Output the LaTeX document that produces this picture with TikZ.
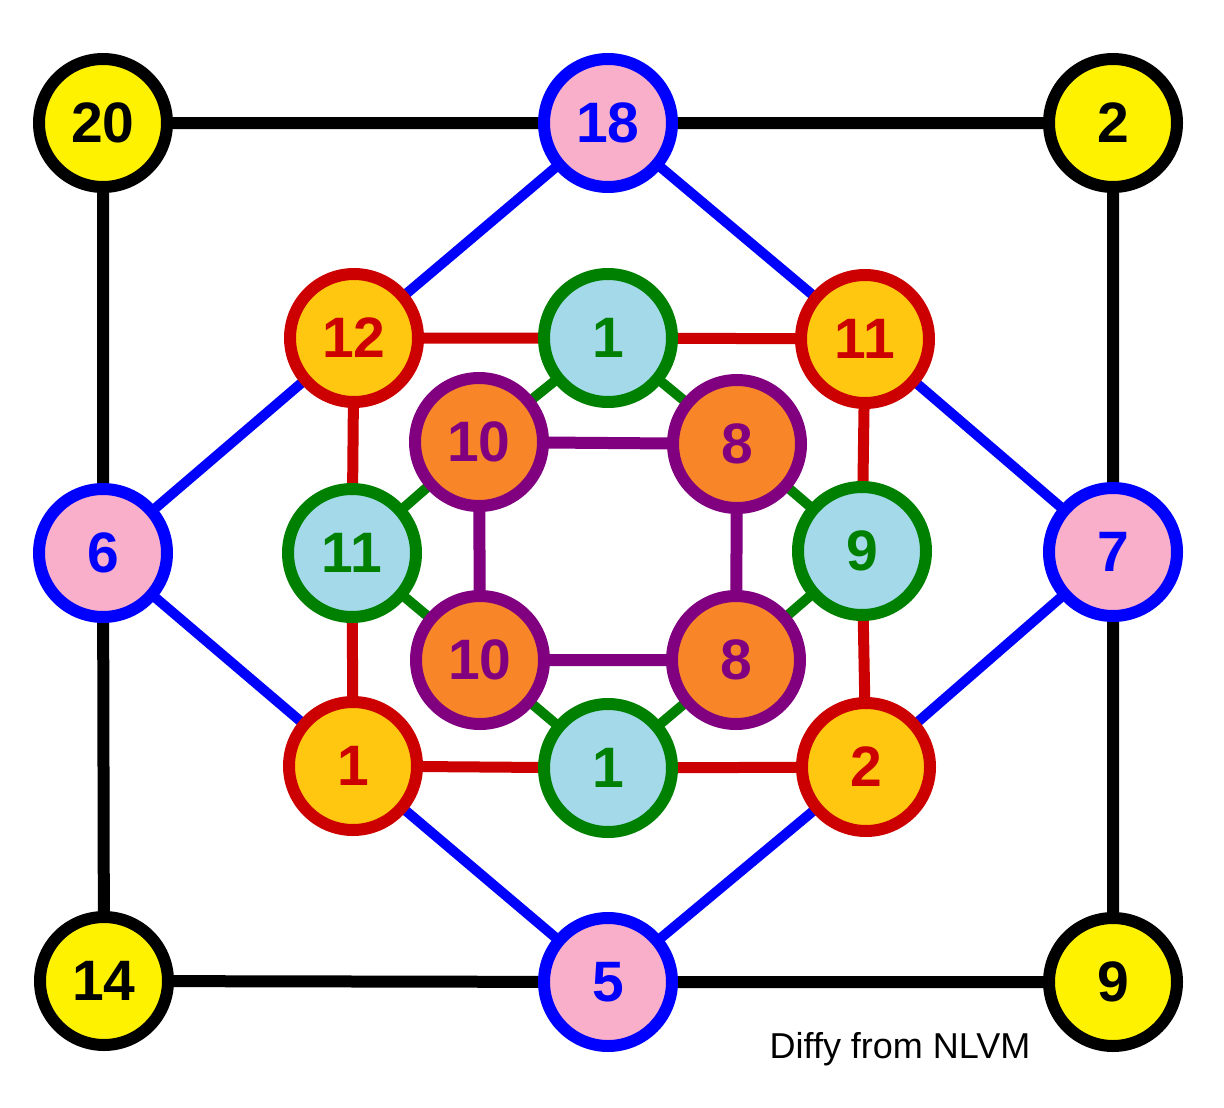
\documentclass[tikz,border=0pt]{standalone}
\usepackage{fontspec}
\setmainfont{Liberation Sans}
\usetikzlibrary{backgrounds}
\definecolor{cyell}{HTML}{FFF200}
\definecolor{cpink}{HTML}{F9AFC9}
\definecolor{cgold}{HTML}{FFC710}
\definecolor{clblue}{HTML}{A3D9E8}
\definecolor{corange}{HTML}{F88628}
\definecolor{cpurple}{HTML}{800080}
\definecolor{cgreen}{HTML}{008000}
\definecolor{cred}{HTML}{CC0000}
\definecolor{cblue}{HTML}{0000FF}
\tikzset{
  num/.style={circle, minimum size=128pt, inner sep=0pt, line width=12pt,
    font=\fontsize{57}{60}\selectfont\bfseries},
  blacknode/.style={num, draw=black, fill=cyell, text=black},
  bluenode/.style={num, draw=cblue, fill=cpink, text=cblue},
  rednode/.style={num, draw=cred, fill=cgold, text=cred},
  greennode/.style={num, draw=cgreen, fill=clblue, text=cgreen},
  purplenode/.style={num, draw=cpurple, fill=corange, text=cpurple},
  blackline/.style={draw=black, line width=12pt},
  blueline/.style={draw=cblue, line width=10pt},
  redline/.style={draw=cred, line width=11pt},
  greenline/.style={draw=cgreen, line width=10pt},
  purpleline/.style={draw=cpurple, line width=12pt},
}
\begin{document}
\begin{tikzpicture}[x=1pt,y=-1pt]
\useasboundingbox (0,0) rectangle (1224,1108);
% outer
\node[blacknode] (a20) at (103,123) {20};
\node[bluenode]  (b18) at (608,123) {18};
\node[blacknode] (a2)  at (1113,123) {2};
\node[bluenode]  (b6)  at (103,553) {6};
\node[bluenode]  (b7)  at (1113,552) {7};
\node[blacknode] (a14) at (104,981) {14};
\node[bluenode]  (b5)  at (608,982) {5};
\node[blacknode] (a9)  at (1113,982) {9};
% red
\node[rednode] (r12) at (354,338) {12};
\node[rednode] (r11) at (865,339) {11};
\node[rednode] (r1)  at (353,766) {1};
\node[rednode] (r2)  at (866,767) {2};
% green
\node[greennode] (g1t) at (608,338) {1};
\node[greennode] (g11) at (352,553) {11};
\node[greennode] (g9)  at (862,551) {9};
\node[greennode] (g1b) at (608,768) {1};
% purple
\node[purplenode] (p10t) at (479,442) {10};
\node[purplenode] (p8t)  at (737,444) {8};
\node[purplenode] (p10b) at (480,660) {10};
\node[purplenode] (p8b)  at (736,660) {8};
% label
\node[font=\fontsize{36}{40}\selectfont, anchor=base] (lbl) at (900,1058) {Diffy from NLVM};
\begin{scope}[on background layer]
  \path[blackline] (a20.center) -- (b18.center) -- (a2.center) -- (b7.center) -- (a9.center) -- (b5.center) -- (a14.center) -- (b6.center) -- cycle;
  \path[blueline] (b18.center) -- (r11.center) -- (b7.center) -- (r2.center) -- (b5.center) -- (r1.center) -- (b6.center) -- (r12.center) -- cycle;
  \path[redline] (r12.center) -- (g1t.center) -- (r11.center) -- (g9.center) -- (r2.center) -- (g1b.center) -- (r1.center) -- (g11.center) -- cycle;
  \path[greenline] (g1t.center) -- (p8t.center) -- (g9.center) -- (p8b.center) -- (g1b.center) -- (p10b.center) -- (g11.center) -- (p10t.center) -- cycle;
  \path[purpleline] (p10t.center) -- (p8t.center) -- (p8b.center) -- (p10b.center) -- cycle;
\end{scope}
\end{tikzpicture}
\end{document}
